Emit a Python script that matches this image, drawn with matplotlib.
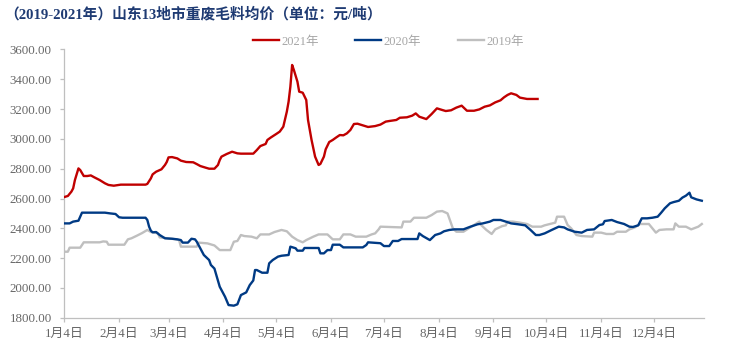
import pandas as pd
import matplotlib.pyplot as plt
import matplotlib.dates as mdates

# 山东13地市重废毛料均价 (元/吨)
dates_2021 = ["01-04", "01-06", "01-08", "01-09", "01-10", "01-12", "01-13", "01-15", "01-17",
              "01-19", "01-21", "01-24", "01-27", "01-29", "02-01", "02-05", "02-19", "02-20",
              "02-22", "02-23", "02-25", "02-28", "03-02", "03-03", "03-04", "03-06", "03-09",
              "03-11", "03-14", "03-18", "03-20", "03-22", "03-25", "03-27", "03-30", "04-01",
              "04-02", "04-03", "04-06", "04-09", "04-12", "04-14", "04-21", "04-23", "04-25",
              "04-28", "04-29", "05-01", "05-04", "05-06", "05-08", "05-10", "05-11", "05-12",
              "05-13", "05-14", "05-16", "05-17", "05-19", "05-21", "05-22", "05-24", "05-26",
              "05-28", "05-29", "05-31", "06-01", "06-03", "06-05", "06-07", "06-09", "06-11",
              "06-13", "06-15", "06-17", "06-19", "06-22", "06-25", "06-29", "07-02", "07-05",
              "07-07", "07-11", "07-13", "07-17", "07-20", "07-22", "07-24", "07-28", "07-31",
              "08-03", "08-06", "08-08", "08-11", "08-14", "08-17", "08-20", "08-24", "08-27",
              "08-30", "09-02", "09-05", "09-08", "09-10", "09-12", "09-14", "09-17", "09-19",
              "09-23", "09-29"]
price_2021 = [2610, 2617, 2646, 2668, 2724, 2802, 2791, 2751, 2751,
              2755, 2742, 2724, 2702, 2691, 2686, 2693, 2693, 2698,
              2735, 2762, 2780, 2796, 2825, 2845, 2876, 2878, 2869,
              2854, 2845, 2843, 2831, 2818, 2807, 2800, 2800, 2825,
              2858, 2881, 2899, 2914, 2903, 2901, 2901, 2925, 2952,
              2966, 2993, 3010, 3033, 3049, 3082, 3183, 3250, 3350,
              3496, 3462, 3384, 3317, 3310, 3261, 3127, 2993, 2881,
              2825, 2832, 2881, 2930, 2979, 2993, 3010, 3026, 3024,
              3037, 3060, 3100, 3102, 3091, 3080, 3086, 3096, 3116,
              3120, 3127, 3142, 3145, 3156, 3171, 3149, 3133, 3167,
              3205, 3194, 3187, 3192, 3210, 3223, 3189, 3189, 3198,
              3216, 3225, 3245, 3259, 3279, 3295, 3306, 3295, 3277,
              3268, 3268]

dates_2020 = ["01-04", "01-07", "01-09", "01-12", "01-13", "01-14", "01-27", "01-30", "02-02",
              "02-04", "02-06", "02-19", "02-20", "02-21", "02-22", "02-23", "02-25", "02-27",
              "03-02", "03-06", "03-09", "03-11", "03-12", "03-15", "03-17", "03-19", "03-20",
              "03-22", "03-24", "03-27", "03-28", "03-30", "04-02", "04-05", "04-07", "04-10",
              "04-12", "04-14", "04-17", "04-19", "04-21", "04-22", "04-23", "04-26", "04-29",
              "04-30", "05-02", "05-05", "05-07", "05-11", "05-12", "05-15", "05-16", "05-19",
              "05-20", "05-28", "05-29", "05-31", "06-02", "06-04", "06-05", "06-09", "06-11",
              "06-22", "06-24", "06-25", "07-02", "07-04", "07-07", "07-09", "07-12", "07-14",
              "07-23", "07-24", "07-26", "07-30", "08-02", "08-05", "08-07", "08-10", "08-13",
              "08-18", "08-22", "08-26", "08-29", "09-02", "09-04", "09-08", "09-11", "09-14",
              "09-18", "09-22", "09-25", "09-28", "09-30", "10-03", "10-07", "10-11", "10-14",
              "10-16", "10-20", "10-24", "10-27", "10-31", "11-03", "11-05", "11-06", "11-10",
              "11-13", "11-17", "11-20", "11-22", "11-25", "11-27", "11-30", "12-03", "12-06",
              "12-08", "12-10", "12-13", "12-15", "12-18", "12-20", "12-22", "12-24", "12-25",
              "12-28", "12-31"]
price_2020 = [2433, 2433, 2445, 2451, 2478, 2505, 2505, 2500, 2496,
              2474, 2471, 2471, 2456, 2411, 2384, 2373, 2375, 2355,
              2333, 2330, 2326, 2321, 2304, 2304, 2330, 2326, 2310,
              2266, 2221, 2187, 2154, 2130, 2008, 1941, 1885, 1881,
              1890, 1952, 1970, 2019, 2050, 2120, 2120, 2102, 2102,
              2165, 2187, 2210, 2216, 2221, 2277, 2266, 2250, 2250,
              2268, 2268, 2232, 2232, 2254, 2254, 2290, 2290, 2272,
              2272, 2288, 2306, 2300, 2281, 2281, 2315, 2315, 2328,
              2328, 2366, 2348, 2321, 2355, 2366, 2380, 2389, 2393,
              2393, 2411, 2427, 2433, 2445, 2456, 2456, 2445, 2433,
              2427, 2420, 2389, 2355, 2355, 2366, 2389, 2411, 2406,
              2393, 2377, 2371, 2389, 2393, 2422, 2427, 2449, 2456,
              2442, 2429, 2411, 2409, 2420, 2467, 2467, 2471, 2478,
              2505, 2534, 2568, 2576, 2585, 2606, 2619, 2639, 2608,
              2594, 2585]

dates_2019 = ["01-04", "01-06", "01-07", "01-13", "01-15", "01-24", "01-26", "01-28", "01-29",
              "02-07", "02-09", "02-11", "02-14", "02-17", "02-20", "02-22", "02-24", "02-26",
              "02-27", "03-02", "03-07", "03-10", "03-11", "03-20", "03-21", "03-26", "03-30",
              "04-02", "04-08", "04-10", "04-12", "04-14", "04-16", "04-20", "04-23", "04-25",
              "04-30", "05-03", "05-07", "05-10", "05-13", "05-16", "05-19", "05-21", "05-25",
              "05-28", "06-02", "06-05", "06-09", "06-11", "06-15", "06-18", "06-24", "06-27",
              "06-29", "07-01", "07-02", "07-14", "07-15", "07-19", "07-21", "07-28", "07-31",
              "08-03", "08-06", "08-09", "08-10", "08-12", "08-14", "08-18", "08-21", "08-24",
              "08-27", "08-28", "08-31", "09-03", "09-05", "09-09", "09-11", "09-12", "09-15",
              "09-19", "09-23", "09-26", "10-01", "10-03", "10-09", "10-10", "10-14", "10-16",
              "10-18", "10-21", "10-24", "10-30", "10-31", "11-04", "11-07", "11-11", "11-13",
              "11-18", "11-20", "11-23", "11-26", "12-01", "12-03", "12-05", "12-07", "12-11",
              "12-15", "12-16", "12-18", "12-22", "12-25", "12-29", "12-31"]
price_2019 = [2243, 2243, 2270, 2270, 2306, 2306, 2312, 2310, 2290,
              2290, 2326, 2333, 2350, 2368, 2389, 2375, 2371, 2366,
              2339, 2335, 2328, 2321, 2277, 2277, 2304, 2299, 2285,
              2254, 2254, 2310, 2315, 2355, 2348, 2344, 2333, 2359,
              2359, 2375, 2389, 2380, 2344, 2321, 2306, 2321, 2344,
              2359, 2359, 2326, 2326, 2359, 2359, 2344, 2344, 2359,
              2366, 2393, 2411, 2406, 2445, 2445, 2471, 2471, 2489,
              2512, 2516, 2500, 2467, 2400, 2377, 2377, 2400, 2422,
              2445, 2422, 2389, 2362, 2393, 2415, 2420, 2445, 2445,
              2438, 2429, 2411, 2411, 2420, 2438, 2478, 2478, 2422,
              2400, 2355, 2348, 2344, 2371, 2371, 2362, 2362, 2377,
              2377, 2393, 2406, 2429, 2429, 2400, 2371, 2389, 2393,
              2393, 2433, 2411, 2411, 2393, 2411, 2429]

series_names = ["2021年", "2020年", "2019年"]
tick_months = ["1月4日", "2月4日", "3月4日", "4月4日", "5月4日", "6月4日",
               "7月4日", "8月4日", "9月4日", "10月4日", "11月4日", "12月4日"]
y_ticks = [1800, 2000, 2200, 2400, 2600, 2800, 3000, 3200, 3400, 3600]

# all years share one calendar axis (dummy year, not leap)
def to_axis(md):
    return pd.to_datetime(["2021-" + d for d in md])

fonts = ["Liberation Serif", "Noto Sans CJK SC"]
plt.rcParams["font.family"] = fonts

fig = plt.figure(figsize=(7.31, 3.55), dpi=100)
ax = fig.add_axes([0.088, 0.105, 0.8755, 0.7556])

colors = ["#C00000", "#003A84", "#BFBFBF"]
ax.plot(to_axis(dates_2019), price_2019, color=colors[2], lw=1.7, label=series_names[2], zorder=2)
ax.plot(to_axis(dates_2020), price_2020, color=colors[1], lw=1.7, label=series_names[1], zorder=3)
ax.plot(to_axis(dates_2021), price_2021, color=colors[0], lw=1.7, label=series_names[0], zorder=4)

ax.set_ylim(1800, 3600)
ax.set_yticks(y_ticks)
ax.set_yticklabels([f"{v:.2f}" for v in y_ticks])
ax.set_xlim(pd.Timestamp("2021-01-04"), pd.Timestamp("2022-01-01 10:00"))
ax.set_xticks(pd.to_datetime([f"2021-{m:02d}-04" for m in range(1, 13)]))
ax.set_xticklabels(tick_months)

for s in ["top", "right"]:
    ax.spines[s].set_visible(False)
for s in ["left", "bottom"]:
    ax.spines[s].set_color("#BFBFBF")
    ax.spines[s].set_linewidth(0.9)
ax.tick_params(axis="both", colors="#BFBFBF", length=3, width=0.9, labelsize=9.3,
               labelcolor="#666666")
ax.tick_params(axis="y", pad=6)
ax.tick_params(axis="x", pad=4)

handles, labels = ax.get_legend_handles_labels()
order = [2, 1, 0]
leg = fig.legend([handles[i] for i in order], [labels[i] for i in order],
                 loc="center", bbox_to_anchor=(0.531, 0.883), ncol=3, frameon=False,
                 fontsize=9, handlelength=2.1, handletextpad=0.2, columnspacing=2.9)
for t in leg.get_texts():
    t.set_color("#A6A6A6")

fig.text(0.006, 0.96, "（2019-2021年）山东13地市重废毛料均价（单位：元/吨）",
         fontsize=10.6, fontweight="bold", color="#1F3B73", ha="left", va="center")

fig.savefig("out.png", dpi=100)
